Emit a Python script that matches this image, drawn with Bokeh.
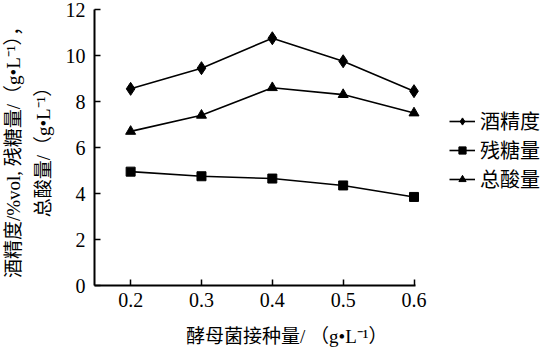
from bokeh.plotting import figure
from bokeh.models import Legend, LegendItem, Range1d, FixedTicker
from bokeh.embed import file_html
from bokeh.resources import INLINE

x_vals = [0.2, 0.3, 0.4, 0.5, 0.6]
alcohol = [8.55, 9.45, 10.75, 9.75, 8.45]
residual_sugar = [4.95, 4.75, 4.65, 4.35, 3.85]
total_acid = [6.7, 7.4, 8.6, 8.3, 7.5]
series_names = ["酒精度", "残糖量", "总酸量"]
x_ticks = [0.2, 0.3, 0.4, 0.5, 0.6]
y_ticks = [0, 2, 4, 6, 8, 10, 12]

FONT = "'Liberation Serif', 'Noto Sans CJK SC', serif"

X_START = 0.149
X_AXIS_END = 0.602
X_VIEW_END = 0.149 + 452 / 710

p = figure(width=545, height=353, output_backend="svg", toolbar_location=None,
           x_range=Range1d(X_START, X_VIEW_END), y_range=Range1d(0, 12),
           min_border_left=93, min_border_right=0, min_border_top=9, min_border_bottom=68)
p.outline_line_color = None
p.xgrid.grid_line_color = None
p.ygrid.grid_line_color = None

for ax in (p.xaxis[0], p.yaxis[0]):
    ax.axis_line_color = "black"
    ax.axis_line_width = 2
    ax.major_tick_in = 6
    ax.major_tick_out = 0
    ax.minor_tick_line_color = None
    ax.major_tick_line_color = "black"
    ax.major_tick_line_width = 1.5
    ax.major_label_text_font = FONT
    ax.major_label_text_font_size = "20px"
    ax.major_label_text_color = "black"
    ax.axis_label_text_font = FONT
    ax.axis_label_text_font_style = "normal"
    ax.axis_label_text_color = "black"

p.xaxis.bounds = (X_START, X_AXIS_END)
p.xaxis.ticker = FixedTicker(ticks=x_ticks)
p.yaxis.ticker = FixedTicker(ticks=y_ticks)
p.xaxis.major_label_standoff = 7
p.yaxis.major_label_standoff = 9

p.xaxis.axis_label = "酵母菌接种量/ （g•L⁻¹）\u2003\u2003\u2003\u2002"
p.xaxis.axis_label_text_font_size = "19px"
p.xaxis.axis_label_standoff = 16
p.yaxis.axis_label = "酒精度/%vol, 残糖量/（g•L⁻¹），\n总酸量/（g•L⁻¹）"
p.yaxis.axis_label_text_font_size = "19px"
p.yaxis.axis_label_text_line_height = 1.4
p.yaxis.axis_label_standoff = 9

r1l = p.line(x_vals, alcohol, line_color="black", line_width=1.6)
r1m = p.scatter(x_vals, alcohol, marker="diamond", size=13, color="black")
r2l = p.line(x_vals, residual_sugar, line_color="black", line_width=1.6)
r2m = p.scatter(x_vals, residual_sugar, marker="square", size=9, color="black")
r3l = p.line(x_vals, total_acid, line_color="black", line_width=1.6)
r3m = p.scatter(x_vals, total_acid, marker="triangle", size=10, color="black")

legend = Legend(items=[
    LegendItem(label=series_names[0], renderers=[r1l, r1m]),
    LegendItem(label=series_names[1], renderers=[r2l, r2m]),
    LegendItem(label=series_names[2], renderers=[r3l, r3m]),
], location=(355, 92))
legend.padding = 0
legend.margin = 0
legend.border_line_color = None
legend.background_fill_alpha = 0
legend.glyph_width = 26
legend.glyph_height = 18
legend.label_height = 18
legend.spacing = 0
legend.label_standoff = 5
legend.label_text_font = FONT
legend.label_text_font_size = "20px"
legend.label_text_color = "black"
p.add_layout(legend, "center")

open("out.html", "w").write(file_html(p, INLINE))
